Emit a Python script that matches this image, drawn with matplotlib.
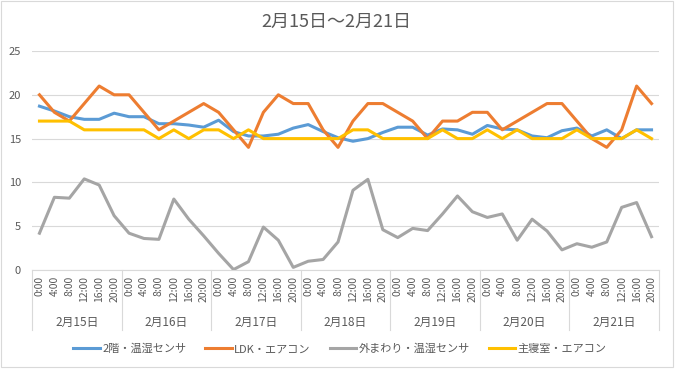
import numpy as np
import matplotlib.pyplot as plt
from matplotlib.patches import Rectangle

plt.rcParams['font.family'] = ['Noto Sans CJK JP', 'DejaVu Sans']

# data
days = ['2月15日', '2月16日', '2月17日', '2月18日', '2月19日', '2月20日', '2月21日']
times = ['0:00', '4:00', '8:00', '12:00', '16:00', '20:00']

upstairs = [18.7, 18.15, 17.5, 17.2, 17.2, 17.9,
            17.5, 17.5, 16.7, 16.7, 16.55, 16.3,
            17.1, 15.8, 15.3, 15.3, 15.5, 16.2,
            16.6, 15.8, 15.1, 14.7, 15.0, 15.7,
            16.3, 16.3, 15.4, 16.1, 16.0, 15.5,
            16.5, 16.1, 16.0, 15.3, 15.1, 15.9,
            16.2, 15.3, 16.0, 15.0, 16.0, 16.0]
ldk = [20, 18, 17, 19, 21, 20,
       20, 18, 16, 17, 18, 19,
       18, 16, 14, 18, 20, 19,
       19, 16, 14, 17, 19, 19,
       18, 17, 15, 17, 17, 18,
       18, 16, 17, 18, 19, 19,
       17, 15, 14, 16, 21, 19]
outside = [4.2, 8.3, 8.2, 10.4, 9.7, 6.2,
           4.2, 3.6, 3.5, 8.1, 5.8, 3.9,
           1.9, 0.05, 0.95, 4.9, 3.4, 0.3,
           1.0, 1.2, 3.2, 9.1, 10.35, 4.6,
           3.7, 4.75, 4.5, 6.4, 8.45, 6.65,
           6.0, 6.4, 3.4, 5.8, 4.45, 2.3,
           3.0, 2.6, 3.2, 7.15, 7.7, 3.8]
bedroom = [17, 17, 17, 16, 16, 16,
           16, 16, 15, 16, 15, 16,
           16, 15, 16, 15, 15, 15,
           15, 15, 15, 16, 16, 15,
           15, 15, 15, 16, 15, 15,
           16, 15, 16, 15, 15, 15,
           16, 15, 15, 15, 16, 15]

series = [('2階・温湿センサ', upstairs, '#5B9BD5'),
          ('LDK・エアコン', ldk, '#ED7D31'),
          ('外まわり・温湿センサ', outside, '#A5A5A5'),
          ('主寝室・エアコン', bedroom, '#FFC000')]

W, H = 681, 380
fig = plt.figure(figsize=(W / 100, H / 100), dpi=100)
fig.patches.append(Rectangle((1 / W, 1 - 367 / H), 672 / W, 366 / H,
                             transform=fig.transFigure, fill=False,
                             edgecolor='#D9D9D9', linewidth=0.8))

ax = fig.add_axes([32 / W, 1 - 270 / H, 627 / W, 219 / H])
x = np.arange(len(days) * len(times))
for name, vals, col in series:
    ax.plot(x, vals, color=col, linewidth=2.2, label=name, solid_joinstyle='round')

ax.set_xlim(-0.5, len(x) - 0.5)
ax.set_ylim(0, 25)
ax.set_yticks([0, 5, 10, 15, 20, 25])
ax.grid(axis='y', color='#D9D9D9', linewidth=0.8)
ax.set_axisbelow(True)
for s in ['top', 'right', 'left']:
    ax.spines[s].set_visible(False)
ax.spines['bottom'].set_color('#D9D9D9')
ax.tick_params(axis='y', length=0, pad=8, labelsize=8, labelcolor='#595959')
ax.set_xticks(x)
ax.set_xticklabels(times * len(days), rotation=90, va='top', ha='center')
ax.tick_params(axis='x', length=0, pad=4, labelsize=7.5, labelcolor='#595959')

# day group labels and separators
tr = ax.get_xaxis_transform()
for i, d in enumerate(days):
    ax.text(i * 6 + 2.5, -52 / 219, d, transform=tr, ha='center', va='center',
            fontsize=8.5, color='#595959')
for b in range(len(days) + 1):
    ax.plot([b * 6 - 0.5, b * 6 - 0.5], [0, -60 / 219], transform=tr,
            color='#D9D9D9', linewidth=0.8, clip_on=False)

fig.text(336 / W, 1 - 22 / H, '2月15日～2月21日', ha='center', va='center',
         fontsize=13, color='#595959')
fig.legend(loc='center', bbox_to_anchor=(340 / W, 1 - 349 / H), ncol=4,
           frameon=False, fontsize=8, handlelength=2.4, handletextpad=0.2,
           columnspacing=1.7, labelcolor='#595959')

fig.savefig('out.png', dpi=100)
